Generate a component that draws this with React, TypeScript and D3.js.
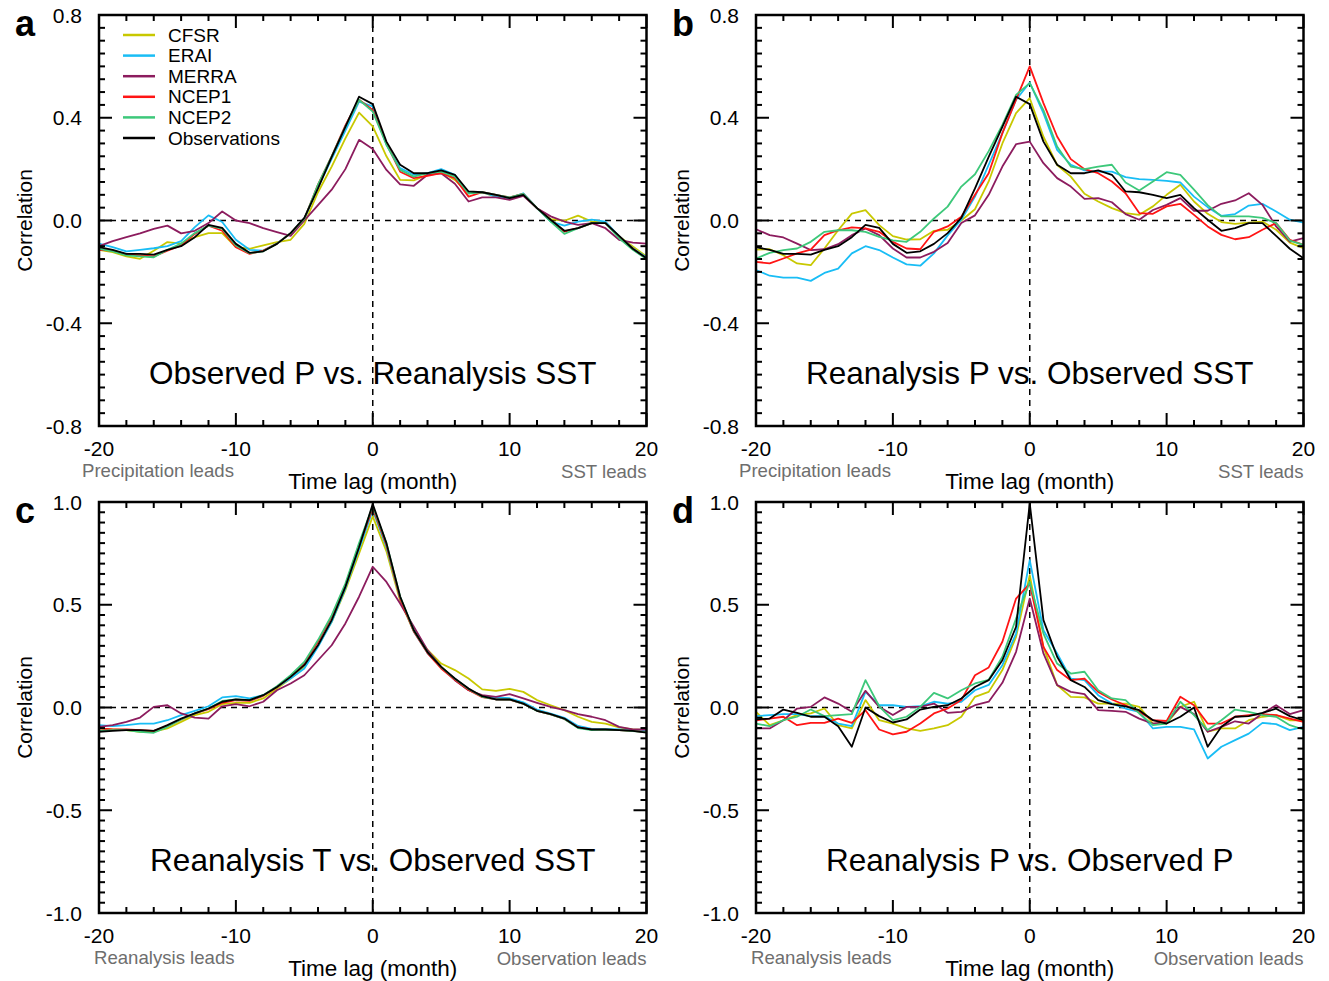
import React from "react";
import * as d3 from "d3";

const LAGS = [-20, -19, -18, -17, -16, -15, -14, -13, -12, -11, -10, -9, -8, -7, -6, -5, -4, -3, -2, -1, 0, 1, 2, 3, 4, 5, 6, 7, 8, 9, 10, 11, 12, 13, 14, 15, 16, 17, 18, 19, 20];

const SERIES_NAMES = ["CFSR", "ERAI", "MERRA", "NCEP1", "NCEP2", "Observations"];
const SERIES_COLORS = ["#c8c800", "#19bdf5", "#8c1c5e", "#ff1414", "#3dc87a", "#000000"];

const X_MAJOR = [-20, -10, 0, 10, 20];
const X_LABELS = ["-20", "-10", "0", "10", "20"];
const Y_TICKS_AB = [-0.8, -0.4, 0, 0.4, 0.8];
const Y_LABELS_AB = ["-0.8", "-0.4", "0.0", "0.4", "0.8"];
const Y_TICKS_CD = [-1, -0.5, 0, 0.5, 1];
const Y_LABELS_CD = ["-1.0", "-0.5", "0.0", "0.5", "1.0"];

// Panel a: Observed P vs. Reanalysis SST
const aCFSR = [-0.114, -0.123, -0.14, -0.149, -0.118, -0.084, -0.09, -0.065, -0.049, -0.049, -0.104, -0.11, -0.097, -0.084, -0.075, -0.013, 0.11, 0.21, 0.32, 0.42, 0.366, 0.25, 0.158, 0.156, 0.178, 0.19, 0.158, 0.106, 0.109, 0.093, 0.087, 0.1, 0.048, 0.005, -0.001, 0.019, -0.004, -0.008, -0.062, -0.101, -0.14];
const aERAI = [-0.09, -0.104, -0.12, -0.114, -0.108, -0.1, -0.08, -0.026, 0.02, -0.006, -0.075, -0.114, -0.117, -0.09, -0.05, 0.006, 0.13, 0.24, 0.35, 0.463, 0.444, 0.295, 0.204, 0.178, 0.184, 0.2, 0.178, 0.106, 0.11, 0.093, 0.087, 0.106, 0.048, -0.004, -0.02, -0.004, 0.003, -0.004, -0.062, -0.108, -0.144];
const aMERRA = [-0.1, -0.08, -0.065, -0.05, -0.033, -0.02, -0.05, -0.04, -0.01, 0.035, 0.0, -0.01, -0.03, -0.045, -0.06, 0.0, 0.06, 0.12, 0.2, 0.314, 0.278, 0.197, 0.141, 0.135, 0.178, 0.184, 0.143, 0.074, 0.09, 0.09, 0.08, 0.096, 0.048, 0.016, -0.004, -0.017, -0.01, -0.03, -0.075, -0.086, -0.09];
const aNCEP1 = [-0.114, -0.117, -0.132, -0.136, -0.14, -0.117, -0.097, -0.052, -0.02, -0.04, -0.104, -0.13, -0.117, -0.09, -0.05, 0.006, 0.14, 0.25, 0.37, 0.47, 0.43, 0.3, 0.19, 0.165, 0.174, 0.184, 0.165, 0.093, 0.11, 0.1, 0.09, 0.104, 0.048, 0.0, -0.043, -0.03, -0.01, -0.01, -0.065, -0.11, -0.149];
const aNCEP2 = [-0.11, -0.12, -0.136, -0.14, -0.143, -0.114, -0.09, -0.049, -0.02, -0.032, -0.097, -0.127, -0.12, -0.09, -0.05, 0.006, 0.14, 0.25, 0.365, 0.47, 0.424, 0.295, 0.197, 0.171, 0.184, 0.19, 0.171, 0.106, 0.11, 0.1, 0.09, 0.104, 0.048, -0.004, -0.052, -0.03, -0.01, -0.01, -0.069, -0.114, -0.15];
const obsPvsSST = [-0.104, -0.114, -0.13, -0.13, -0.133, -0.114, -0.1, -0.065, -0.017, -0.029, -0.091, -0.126, -0.12, -0.091, -0.049, 0.01, 0.125, 0.248, 0.364, 0.482, 0.453, 0.307, 0.217, 0.184, 0.184, 0.195, 0.178, 0.113, 0.11, 0.1, 0.087, 0.1, 0.048, 0.003, -0.04, -0.03, -0.01, -0.01, -0.06, -0.11, -0.147];

// Panel b: Reanalysis P vs. Observed SST
const bCFSR = [-0.113, -0.112, -0.135, -0.167, -0.174, -0.109, -0.038, 0.027, 0.04, -0.018, -0.061, -0.074, -0.073, -0.04, -0.036, 0.0, 0.044, 0.152, 0.3, 0.418, 0.476, 0.326, 0.216, 0.171, 0.104, 0.074, 0.048, 0.029, 0.022, 0.055, 0.1, 0.139, 0.074, 0.026, -0.006, -0.013, -0.008, -0.004, -0.036, -0.086, -0.108];
const bERAI = [-0.193, -0.215, -0.222, -0.222, -0.235, -0.204, -0.187, -0.128, -0.1, -0.115, -0.144, -0.171, -0.176, -0.128, -0.058, 0.003, 0.093, 0.217, 0.34, 0.47, 0.537, 0.418, 0.275, 0.217, 0.195, 0.19, 0.19, 0.169, 0.161, 0.158, 0.154, 0.148, 0.093, 0.052, 0.018, 0.025, 0.058, 0.065, 0.035, 0.003, -0.008];
const bMERRA = [-0.034, -0.057, -0.066, -0.09, -0.115, -0.112, -0.092, -0.057, -0.031, -0.057, -0.109, -0.144, -0.144, -0.122, -0.088, -0.01, 0.02, 0.1, 0.21, 0.297, 0.307, 0.223, 0.165, 0.132, 0.084, 0.087, 0.071, 0.025, 0.003, 0.041, 0.061, 0.087, 0.038, 0.038, 0.065, 0.078, 0.106, 0.061, -0.023, -0.082, -0.069];
const bNCEP1 = [-0.161, -0.167, -0.148, -0.128, -0.113, -0.057, -0.038, -0.027, -0.031, -0.044, -0.083, -0.109, -0.112, -0.044, -0.023, 0.015, 0.1, 0.184, 0.34, 0.47, 0.6, 0.457, 0.327, 0.239, 0.2, 0.184, 0.152, 0.106, 0.029, 0.026, 0.055, 0.065, 0.022, -0.023, -0.056, -0.073, -0.065, -0.036, -0.01, -0.075, -0.095];
const bNCEP2 = [-0.148, -0.126, -0.115, -0.109, -0.083, -0.044, -0.038, -0.038, -0.044, -0.064, -0.077, -0.083, -0.044, 0.008, 0.054, 0.132, 0.18, 0.27, 0.372, 0.489, 0.535, 0.43, 0.288, 0.21, 0.2, 0.21, 0.217, 0.148, 0.117, 0.152, 0.188, 0.178, 0.12, 0.06, 0.016, 0.016, 0.016, 0.01, -0.01, -0.078, -0.095];

// Panel c: Reanalysis T vs. Observed SST
const cCFSR = [-0.102, -0.107, -0.11, -0.118, -0.118, -0.102, -0.07, -0.037, -0.021, 0.016, 0.023, 0.023, 0.044, 0.092, 0.141, 0.198, 0.3, 0.417, 0.571, 0.75, 0.93, 0.76, 0.52, 0.37, 0.28, 0.214, 0.182, 0.141, 0.088, 0.081, 0.091, 0.076, 0.036, 0.011, -0.013, -0.045, -0.07, -0.078, -0.097, -0.107, -0.11];
const cERAI = [-0.086, -0.091, -0.086, -0.078, -0.078, -0.062, -0.037, -0.016, 0.006, 0.049, 0.055, 0.044, 0.06, 0.1, 0.141, 0.19, 0.295, 0.417, 0.58, 0.77, 0.96, 0.78, 0.53, 0.37, 0.265, 0.195, 0.135, 0.085, 0.055, 0.049, 0.045, 0.025, -0.01, -0.03, -0.05, -0.09, -0.104, -0.104, -0.107, -0.11, -0.115];
const cMERRA = [-0.094, -0.086, -0.07, -0.049, 0.003, 0.011, -0.029, -0.049, -0.054, 0.006, 0.016, 0.006, 0.028, 0.084, 0.117, 0.157, 0.23, 0.303, 0.409, 0.539, 0.685, 0.611, 0.506, 0.393, 0.279, 0.198, 0.133, 0.084, 0.06, 0.052, 0.065, 0.044, 0.023, 0.003, -0.013, -0.032, -0.045, -0.062, -0.094, -0.107, -0.107];
const cNCEP1 = [-0.102, -0.107, -0.107, -0.11, -0.114, -0.091, -0.058, -0.029, -0.008, 0.023, 0.036, 0.032, 0.057, 0.1, 0.152, 0.214, 0.32, 0.442, 0.595, 0.79, 0.97, 0.79, 0.53, 0.37, 0.265, 0.19, 0.135, 0.085, 0.05, 0.04, 0.038, 0.018, -0.016, -0.034, -0.056, -0.097, -0.108, -0.108, -0.11, -0.114, -0.12];
const cNCEP2 = [-0.114, -0.11, -0.11, -0.118, -0.123, -0.094, -0.058, -0.029, -0.005, 0.032, 0.04, 0.036, 0.06, 0.104, 0.157, 0.222, 0.328, 0.449, 0.603, 0.8, 0.98, 0.8, 0.54, 0.375, 0.27, 0.197, 0.14, 0.09, 0.052, 0.04, 0.039, 0.018, -0.017, -0.033, -0.056, -0.1, -0.11, -0.108, -0.11, -0.115, -0.12];
const cObs = [-0.118, -0.114, -0.11, -0.11, -0.114, -0.086, -0.054, -0.029, -0.005, 0.028, 0.039, 0.036, 0.06, 0.1, 0.149, 0.206, 0.303, 0.425, 0.587, 0.78, 0.99, 0.8, 0.54, 0.376, 0.27, 0.198, 0.141, 0.092, 0.055, 0.039, 0.039, 0.019, -0.016, -0.032, -0.054, -0.097, -0.107, -0.107, -0.11, -0.114, -0.122];

// Panel d: Reanalysis P vs. Observed P
const dCFSR = [-0.021, -0.086, -0.062, -0.037, -0.029, -0.005, -0.086, -0.102, 0.036, -0.062, -0.078, -0.102, -0.114, -0.102, -0.086, -0.045, 0.052, 0.076, 0.182, 0.344, 0.644, 0.295, 0.109, 0.052, 0.049, 0.019, 0.019, 0.019, 0.003, -0.078, -0.078, 0.003, 0.028, -0.118, -0.102, -0.102, -0.062, -0.045, -0.037, -0.062, -0.062];
const dERAI = [-0.042, -0.037, -0.032, -0.032, -0.042, -0.042, -0.078, -0.091, 0.076, 0.011, 0.011, 0.003, 0.006, 0.028, 0.019, 0.028, 0.084, 0.11, 0.206, 0.36, 0.717, 0.376, 0.263, 0.141, 0.133, 0.06, 0.019, -0.005, -0.021, -0.102, -0.094, -0.094, -0.107, -0.248, -0.191, -0.159, -0.127, -0.075, -0.081, -0.11, -0.094];
const dMERRA = [-0.102, -0.102, -0.062, -0.005, 0.003, 0.049, 0.019, -0.021, 0.081, 0.003, -0.037, 0.003, 0.003, 0.019, -0.026, -0.021, 0.011, 0.028, 0.12, 0.271, 0.53, 0.263, 0.109, 0.076, 0.065, -0.013, -0.016, -0.021, -0.054, -0.078, -0.07, 0.003, -0.032, -0.118, -0.094, -0.067, -0.078, -0.029, 0.011, -0.032, -0.013];
const dNCEP1 = [-0.062, -0.054, -0.045, -0.086, -0.075, -0.075, -0.054, -0.075, -0.013, -0.107, -0.131, -0.118, -0.078, -0.029, -0.005, 0.036, 0.157, 0.195, 0.32, 0.53, 0.603, 0.295, 0.182, 0.133, 0.141, 0.076, 0.039, 0.011, -0.021, -0.062, -0.065, 0.052, 0.011, -0.078, -0.078, -0.045, -0.037, -0.032, -0.037, -0.054, -0.07];
const dNCEP2 = [-0.078, -0.091, -0.062, -0.045, -0.01, -0.042, -0.037, -0.032, 0.133, 0.006, -0.062, -0.045, 0.003, 0.071, 0.044, 0.084, 0.117, 0.135, 0.247, 0.433, 0.611, 0.36, 0.214, 0.165, 0.174, 0.084, 0.044, 0.036, -0.029, -0.086, -0.078, 0.028, -0.037, -0.11, -0.062, -0.01, -0.021, -0.037, -0.045, -0.086, -0.107];
const dObs = [-0.058, -0.054, -0.01, -0.026, -0.045, -0.045, -0.091, -0.191, 0.0, -0.042, -0.073, -0.058, -0.01, 0.003, 0.011, 0.044, 0.1, 0.133, 0.23, 0.393, 0.993, 0.425, 0.247, 0.133, 0.1, 0.036, 0.016, 0.006, -0.013, -0.062, -0.078, -0.045, 0.0, -0.191, -0.094, -0.045, -0.042, -0.026, -0.006, -0.042, -0.062];

const FONT = "'Liberation Sans', Arial, Helvetica, sans-serif";
const PW = 547.5;
const PH = 411;

type PanelCfg = {
  letter: string;
  title: string;
  x0: number;
  y0: number;
  yDomain: [number, number];
  yTicks: number[];
  yLabels: string[];
  leadLeft: string;
  leadLeftX: number;
  leadRight: string;
  series: number[][];
  legend: boolean;
};

const PANELS: PanelCfg[] = [
  { letter: "a", title: "Observed P vs. Reanalysis SST", x0: 99, y0: 15, yDomain: [-0.8, 0.8], yTicks: Y_TICKS_AB, yLabels: Y_LABELS_AB, leadLeft: "Precipitation leads", leadLeftX: -17, leadRight: "SST leads", series: [aCFSR, aERAI, aMERRA, aNCEP1, aNCEP2, obsPvsSST], legend: true },
  { letter: "b", title: "Reanalysis P vs. Observed SST", x0: 756, y0: 15, yDomain: [-0.8, 0.8], yTicks: Y_TICKS_AB, yLabels: Y_LABELS_AB, leadLeft: "Precipitation leads", leadLeftX: -17, leadRight: "SST leads", series: [bCFSR, bERAI, bMERRA, bNCEP1, bNCEP2, obsPvsSST], legend: false },
  { letter: "c", title: "Reanalysis T vs. Observed SST", x0: 99, y0: 502, yDomain: [-1, 1], yTicks: Y_TICKS_CD, yLabels: Y_LABELS_CD, leadLeft: "Reanalysis leads", leadLeftX: -5, leadRight: "Observation leads", series: [cCFSR, cERAI, cMERRA, cNCEP1, cNCEP2, cObs], legend: false },
  { letter: "d", title: "Reanalysis P vs. Observed P", x0: 756, y0: 502, yDomain: [-1, 1], yTicks: Y_TICKS_CD, yLabels: Y_LABELS_CD, leadLeft: "Reanalysis leads", leadLeftX: -5, leadRight: "Observation leads", series: [dCFSR, dERAI, dMERRA, dNCEP1, dNCEP2, dObs], legend: false },
];

function Panel({ cfg }: { cfg: PanelCfg }) {
  const x = d3.scaleLinear().domain([-20, 20]).range([cfg.x0, cfg.x0 + PW]);
  const y = d3.scaleLinear().domain(cfg.yDomain).range([cfg.y0 + PH, cfg.y0]);
  const line = d3
    .line<number>()
    .x((_, i) => x(LAGS[i]))
    .y((d) => y(d));
  const xMinor = d3.range(-20, 20.001, 2).filter((v) => X_MAJOR.indexOf(v) < 0);
  const yMinor = d3
    .range(cfg.yDomain[0], cfg.yDomain[1] + 1e-6, 0.05)
    .filter((v) => !cfg.yTicks.some((t) => Math.abs(t - v) < 1e-6));
  const L = cfg.x0;
  const R = cfg.x0 + PW;
  const T = cfg.y0;
  const B = cfg.y0 + PH;
  const MAJ = 13;
  const MIN = 6;
  const cx = (L + R) / 2;
  const tickStroke = { stroke: "#000", strokeWidth: 2 };
  return (
    <g>
      <line x1={L} x2={R} y1={y(0)} y2={y(0)} stroke="#000" strokeWidth={1.5} strokeDasharray="6,5" />
      <line x1={x(0)} x2={x(0)} y1={T} y2={B} stroke="#000" strokeWidth={1.5} strokeDasharray="6,5" />
      {cfg.series.map((s, i) => (
        <path key={i} d={line(s) || ""} fill="none" stroke={SERIES_COLORS[i]} strokeWidth={1.8} strokeLinejoin="round" />
      ))}
      {X_MAJOR.map((v) => (
        <g key={"xm" + v}>
          <line x1={x(v)} x2={x(v)} y1={B} y2={B - MAJ} {...tickStroke} />
          <line x1={x(v)} x2={x(v)} y1={T} y2={T + MAJ} {...tickStroke} />
        </g>
      ))}
      {xMinor.map((v) => (
        <g key={"xn" + v}>
          <line x1={x(v)} x2={x(v)} y1={B} y2={B - MIN} {...tickStroke} />
          <line x1={x(v)} x2={x(v)} y1={T} y2={T + MIN} {...tickStroke} />
        </g>
      ))}
      {cfg.yTicks.map((v) => (
        <g key={"ym" + v}>
          <line x1={L} x2={L + MAJ} y1={y(v)} y2={y(v)} {...tickStroke} />
          <line x1={R} x2={R - MAJ} y1={y(v)} y2={y(v)} {...tickStroke} />
        </g>
      ))}
      {yMinor.map((v, i) => (
        <g key={"yn" + i}>
          <line x1={L} x2={L + MIN} y1={y(v)} y2={y(v)} {...tickStroke} />
          <line x1={R} x2={R - MIN} y1={y(v)} y2={y(v)} {...tickStroke} />
        </g>
      ))}
      <rect x={L} y={T} width={PW} height={PH} fill="none" stroke="#000" strokeWidth={2.5} />
      {cfg.yTicks.map((v, i) => (
        <text key={"yl" + v} x={L - 17} y={y(v) + 7.5} textAnchor="end" fontSize={21} fontFamily={FONT} fill="#000">
          {cfg.yLabels[i]}
        </text>
      ))}
      {X_MAJOR.map((v, i) => (
        <text key={"xl" + v} x={x(v)} y={B + 30} textAnchor="middle" fontSize={21} fontFamily={FONT} fill="#000">
          {X_LABELS[i]}
        </text>
      ))}
      <text x={L + cfg.leadLeftX} y={B + 50.5} textAnchor="start" fontSize={18.6} fontFamily={FONT} fill="#6e6e6e">
        {cfg.leadLeft}
      </text>
      <text x={R} y={B + 52} textAnchor="end" fontSize={18.6} fontFamily={FONT} fill="#6e6e6e">
        {cfg.leadRight}
      </text>
      <text x={cx} y={B + 63} textAnchor="middle" fontSize={22.5} fontFamily={FONT} fill="#000">
        Time lag (month)
      </text>
      <text transform={`translate(${L - 67},${(T + B) / 2}) rotate(-90)`} textAnchor="middle" fontSize={21} fontFamily={FONT} fill="#000">
        Correlation
      </text>
      <text x={L - 84} y={T + 21} fontSize={36} fontWeight="bold" fontFamily={FONT} fill="#000">
        {cfg.letter}
      </text>
      <text x={cx} y={T + 369} textAnchor="middle" fontSize={31.5} fontFamily={FONT} fill="#000">
        {cfg.title}
      </text>
      {cfg.legend &&
        SERIES_NAMES.map((n, i) => {
          const ly = T + 20 + i * 20.6;
          return (
            <g key={n}>
              <line x1={L + 24} x2={L + 56} y1={ly} y2={ly} stroke={SERIES_COLORS[i]} strokeWidth={2.5} />
              <text x={L + 69} y={ly + 6.5} fontSize={19} fontFamily={FONT} fill="#000">
                {n}
              </text>
            </g>
          );
        })}
    </g>
  );
}

export default function App() {
  return (
    <svg
      width={1329}
      height={981}
      viewBox="0 0 1329 981"
      style={{ position: "absolute", left: 0, top: 0, background: "#fff" }}
    >
      <rect x={0} y={0} width={1329} height={981} fill="#fff" />
      {PANELS.map((p) => (
        <Panel key={p.letter} cfg={p} />
      ))}
    </svg>
  );
}
